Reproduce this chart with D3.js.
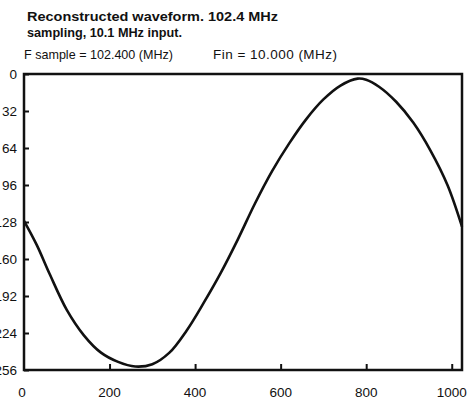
<!DOCTYPE html>
<html><head><meta charset="utf-8">
<script src="https://cdn.jsdelivr.net/npm/d3@7"></script>
<style>body{margin:0;background:#fff}svg{display:block}</style>
</head><body>
<script>
const sampleIndex = [0, 30, 60, 100, 140, 180, 220, 260, 300, 340, 380, 420, 460, 500, 540, 580, 620, 660, 700, 740, 780, 800, 830, 870, 910, 950, 990, 1024];
const codeValue   = [127, 148, 173, 204, 226, 241, 249, 253, 251, 241, 222, 198, 172, 143, 112, 84, 60, 39, 22, 10, 4, 5, 11, 24, 42, 66, 96, 132];
const xTicks = [0, 200, 400, 600, 800, 1000];
const yTicks = [0, 32, 64, 96, 128, 160, 192, 224, 256];
const titleLines = ["Reconstructed waveform. 102.4 MHz", "sampling, 10.1 MHz input."];
const subtitleParts = ["F sample = 102.400 (MHz)", "Fin = 10.000 (MHz)"];

const W = 469, H = 407;
const svg = d3.select("body").append("svg").attr("width", W).attr("height", H);
const font = "'Liberation Sans', Arial, Helvetica, sans-serif";

const x = d3.scaleLinear().domain([0, 1024]).range([24, 462]);
const y = d3.scaleLinear().domain([0, 256]).range([74, 370]);

// title
const titleLen = [251, 155];
svg.append("g").attr("font-family", font).attr("font-weight", "bold").attr("font-size", 13.5)
  .attr("fill", "#111")
  .selectAll("text").data(titleLines).join("text")
  .attr("x", 27).attr("y", (d, i) => 21 + i * 16)
  .attr("textLength", (d, i) => titleLen[i]).attr("lengthAdjust", "spacingAndGlyphs")
  .text(d => d);

const sub = svg.append("g").attr("font-family", font).attr("font-size", 13.5).attr("fill", "#111");
sub.append("text").attr("x", 24).attr("y", 59).attr("textLength", 149).attr("lengthAdjust", "spacingAndGlyphs").text(subtitleParts[0]);
sub.append("text").attr("x", 213).attr("y", 59).attr("textLength", 124).attr("lengthAdjust", "spacing").text(subtitleParts[1]);

// frame
svg.append("rect").attr("x", x(0)).attr("y", y(0)).attr("width", x(1024) - x(0)).attr("height", y(256) - y(0))
  .attr("fill", "none").attr("stroke", "#111").attr("stroke-width", 2.5);

// y axis ticks inward
const yAxis = d3.axisRight(y).tickValues(yTicks).tickSize(5).tickFormat("");
const gy = svg.append("g").attr("transform", `translate(${x(0)},0)`).call(yAxis);
gy.select(".domain").remove();
gy.selectAll(".tick line").attr("stroke", "#111").attr("stroke-width", 2);
svg.append("g").attr("font-family", font).attr("font-size", 13.5).attr("fill", "#111")
  .selectAll("text").data(yTicks).join("text")
  .attr("x", 17).attr("y", d => y(d) + 5).attr("text-anchor", "end").text(d => d);

// x axis ticks inward (upward)
const xAxis = d3.axisTop(x).tickValues(xTicks.filter(d => d > 0)).tickSize(6).tickFormat("");
const gx = svg.append("g").attr("transform", `translate(0,${y(256)})`).call(xAxis);
gx.select(".domain").remove();
gx.selectAll(".tick line").attr("stroke", "#111").attr("stroke-width", 2);
svg.append("g").attr("font-family", font).attr("font-size", 13.5).attr("fill", "#111")
  .selectAll("text").data(xTicks).join("text")
  .attr("x", d => d === 0 ? x(d) - 2 : x(d)).attr("y", 397).attr("text-anchor", "middle").text(d => d);

// waveform
const data = sampleIndex.map((s, i) => [s, codeValue[i]]);
svg.append("path").datum(data)
  .attr("fill", "none").attr("stroke", "#111").attr("stroke-width", 2.6)
  .attr("d", d3.line().x(d => x(d[0])).y(d => y(d[1])).curve(d3.curveCatmullRom));
</script>
</body></html>
